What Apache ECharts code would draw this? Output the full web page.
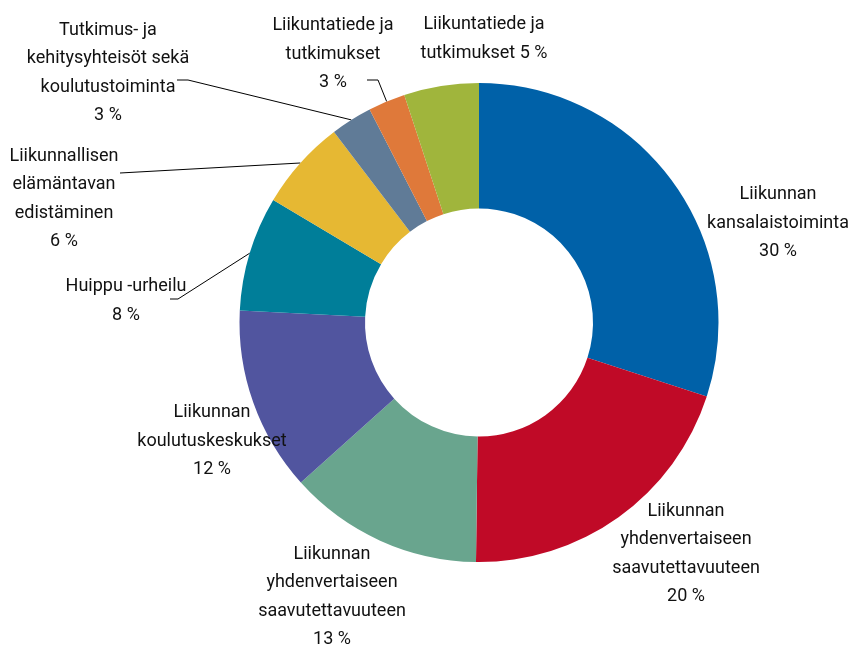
<!DOCTYPE html>
<html>
<head>
<meta charset="utf-8">
<script src="https://cdn.jsdelivr.net/npm/echarts@6/dist/echarts.min.js"></script>
<style>
  html, body { margin: 0; padding: 0; background: #fff; }
  #main { width: 851px; height: 650px; }
</style>
</head>
<body>
<div id="main"></div>
<script>
// luokat ja osuudet (%), myötäpäivään klo 12:sta
var names = [
    'Liikunnan\nkansalaistoiminta',
    'Liikunnan\nyhdenvertaiseen\nsaavutettavuuteen',
    'Liikunnan\nyhdenvertaiseen\nsaavutettavuuteen',
    'Liikunnan\nkoulutuskeskukset',
    'Huippu -urheilu',
    'Liikunnallisen\nelämäntavan\nedistäminen',
    'Tutkimus- ja\nkehitysyhteisöt sekä\nkoulutustoiminta',
    'Liikuntatiede ja\ntutkimukset',
    'Liikuntatiede ja\ntutkimukset'
];
var values = [30.0, 20.2, 13.15, 12.45, 7.75, 6.1, 2.8, 2.5, 5.05];
var pctLabels = ['30 %', '20 %', '13 %', '12 %', '8 %', '6 %', '3 %', '3 %', '5 %'];
var colors = ['#0061a8', '#c00a27', '#69a58e', '#51559f', '#007e99', '#e6b833', '#607b97', '#df793a', '#a0b53c'];

// tekstien paikat (keskipiste) ja viivojen taitteet
var labelPos = [
    [778, 223], [686, 554], [332, 597], [212, 441], [126, 301],
    [64, 199], [108, 73], [333, 54], [484, 39]
];
var leaders = {
    4: [[178, 299], [170, 299]],
    5: [[210, 168], [120, 173]],
    6: [[188, 80], [177, 80]],
    7: [[378, 80], [367, 80]]
};

var myChart = echarts.init(document.getElementById('main'));

var option = {
    animation: false,
    backgroundColor: '#fff',
    series: [
        {
            type: 'pie',
            center: [479, 322.5],
            radius: [114, 239.5],
            startAngle: 90,
            clockwise: true,
            avoidLabelOverlap: false,
            label: {
                show: true,
                position: 'outside',
                fontFamily: 'Roboto, "Liberation Sans", sans-serif',
                fontSize: 18,
                lineHeight: 28.5,
                color: '#111',
                align: 'center',
                formatter: function (p) {
                    var sep = p.dataIndex === 8 ? ' ' : '\n';
                    return names[p.dataIndex] + sep + pctLabels[p.dataIndex];
                }
            },
            labelLine: {
                show: true,
                lineStyle: { color: '#000', width: 1 }
            },
            labelLayout: function (params) {
                var i = params.dataIndex;
                var res = {
                    x: labelPos[i][0],
                    y: labelPos[i][1],
                    align: 'center',
                    verticalAlign: 'middle'
                };
                if (leaders[i] && params.labelLinePoints) {
                    res.labelLinePoints = [params.labelLinePoints[0], leaders[i][0], leaders[i][1]];
                }
                return res;
            },
            emphasis: { disabled: true },
            data: values.map(function (v, i) {
                return {
                    name: names[i],
                    value: v,
                    itemStyle: { color: colors[i] },
                    labelLine: { show: !!leaders[i] }
                };
            })
        }
    ]
};

myChart.setOption(option);
</script>
</body>
</html>
